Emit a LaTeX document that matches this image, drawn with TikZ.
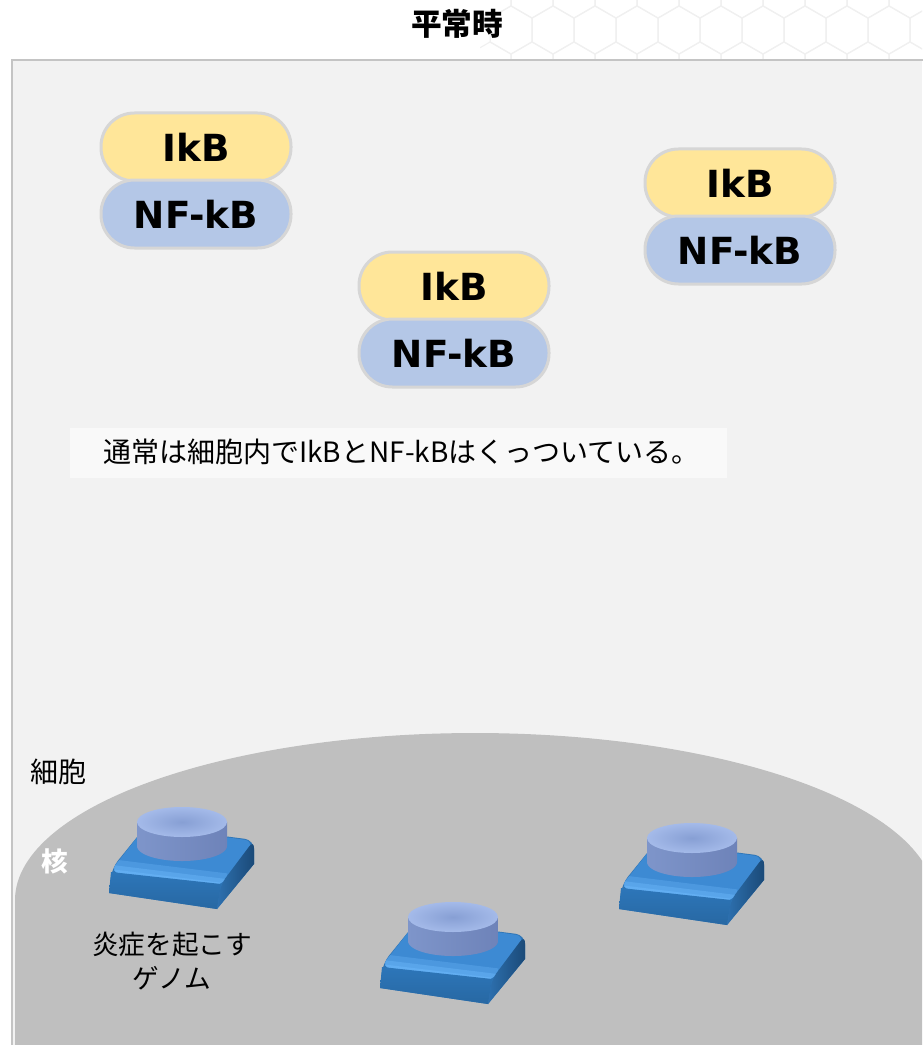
\documentclass[tikz,border=0pt]{standalone}
\usepackage{fontspec}
\newfontfamily\jp{Noto Sans CJK JP}
\newfontfamily\lat{DejaVu Sans}

\definecolor{panelbg}{HTML}{F2F2F2}
\definecolor{panelline}{HTML}{C4C4C4}
\definecolor{nucgray}{HTML}{BFBFBF}
\definecolor{ikbfill}{HTML}{FFE699}
\definecolor{nfkbfill}{HTML}{B4C7E7}
\definecolor{pillline}{HTML}{D6D6D6}
\definecolor{capbox}{HTML}{F9F9F9}
\definecolor{hexline}{HTML}{F0F0F0}
\definecolor{genebody}{HTML}{2E75B6}
\definecolor{genetop}{HTML}{3D8AD3}
\definecolor{genefront}{HTML}{2D76B9}
\definecolor{genehi}{HTML}{62AEF2}
\definecolor{genesidel}{HTML}{2D70AF}
\definecolor{genesider}{HTML}{1B4A78}
\definecolor{capl}{HTML}{7E95CA}
\definecolor{capm}{HTML}{A6BBE8}
\definecolor{capr}{HTML}{6E83B9}
\definecolor{captopin}{HTML}{879FD4}
\definecolor{captopout}{HTML}{A4BAE9}

\begin{document}
\begin{tikzpicture}[x=0.75pt,y=-0.75pt,
  pillbox/.style={draw=pillline, line width=2.25pt, rounded corners=25pt,
    minimum width=142.5pt, minimum height=51pt, inner sep=0pt,
    font=\lat\bfseries\fontsize{28}{31}\selectfont, text=black},
  ikb/.style={pillbox, fill=ikbfill},
  nfkb/.style={pillbox, fill=nfkbfill},
  jptext/.style={font=\jp\fontsize{21}{25}\selectfont, text=black, inner sep=0pt},
  gene/.pic={
    % slab body: sharp bottom, rounded upper edges
    \fill[genebody] (-73,71) -- (35,87) -- (72,42) [rounded corners=7pt] -- (72,18) -- (-36,4) -- (-70,46) [sharp corners] -- cycle;
    % top face, brightening towards its rounded front edge
    \begin{scope}
      \clip[rounded corners=7pt] (-72,50) -- (39,64) -- (72,19) -- (-36,4) -- cycle;
      \fill[genetop] (-80,0) rectangle (80,70);
      \draw[genehi!40!genetop, line width=16pt] (-78,47) -- (44,62);
      \draw[genehi!75!genetop, line width=9pt] (-78,48) -- (44,63);
      \draw[genehi, line width=4pt] (-78,49) -- (44,64);
    \end{scope}
    % front face
    \shade[top color=genefront, bottom color=genefront!88!black]
      (-73,71) -- (35,87) -- (39,62) -- (-71,50) -- cycle;
    % right face
    \shade[left color=genesidel, right color=genesider]
      (35,87) -- (72,42) [rounded corners=6pt] -- (72,18) -- (39,62) [sharp corners] -- cycle;
    % cylindrical cap
    \shade[left color=capl, middle color=capm, right color=capr]
      (-45,0) -- (-45,24) -- plot[domain=180:0, samples=60] ({45*cos(\x)},{24+15*sin(\x)}) -- (45,0) -- cycle;
    \shade[inner color=captopin, outer color=captopout] (0,0) ellipse[x radius=33.75pt, y radius=11.25pt];
  }]
\useasboundingbox (0,0) rectangle (922,1045);
\fill[white] (0,0) rectangle (922,1045);

% faint honeycomb behind the heading
\begin{scope}
  \clip (480,0) rectangle (922,59);
  \foreach \row in {0,1,2} {
    \foreach \col in {0,...,11} {
      \pgfmathsetmacro\hx{490+42*\col+21*mod(\row,2)}
      \pgfmathsetmacro\hy{-6+36*\row}
      \draw[hexline, line width=0.8pt] (\hx,\hy) +(30:24) -- +(90:24) -- +(150:24) -- +(210:24) -- +(270:24) -- +(330:24) -- cycle;
    }
  }
\end{scope}

\node[font=\jp\bfseries\fontsize{23}{26}\selectfont, inner sep=0pt] (title) at (457,24) {平常時};

% cell panel
\fill[panelbg] (12,60) rectangle (922,1045);
\draw[panelline, line width=1.6pt] (12,1046) -- (12,60) -- (923,60);

% nucleus
\begin{scope}
  \clip (13,61) rectangle (922,1045);
  \fill[nucgray] (15,1050) -- plot[domain=180:360, samples=120] ({475+460*cos(\x)},{900+167*sin(\x)}) -- (935,1050) -- cycle;
\end{scope}

% IkB / NF-kB pairs
\node[ikb] (ikb1) at (196,147) {IkB};
\node[nfkb] (nfkb1) at (196,214) {NF-kB};
\node[ikb] (ikb2) at (454,286) {IkB};
\node[nfkb] (nfkb2) at (454,353) {NF-kB};
\node[ikb] (ikb3) at (740,183) {IkB};
\node[nfkb] (nfkb3) at (740,250) {NF-kB};

% caption
\node[fill=capbox, minimum width=492.75pt, minimum height=37.5pt, inner sep=0pt, anchor=west] (capbg) at (70,453) {};
\node[jptext, anchor=west] (captext) at (103,452) {通常は細胞内でIkBとNF-kBはくっついている。};

% labels
\node[jptext] (cell) at (58,772) {細胞};
\node[font=\jp\bfseries\fontsize{20}{24}\selectfont, text=white, inner sep=0pt] (nuc) at (55,861) {核};
\node[jptext, font=\jp\fontsize{20}{26}\selectfont, align=center] (genelabel) at (172,961) {炎症を起こす\\ゲノム};

% inflammatory genes
\pic (g1) at (182,822) {gene};
\pic (g2) at (453,917) {gene};
\pic (g3) at (692,838) {gene};
\end{tikzpicture}
\end{document}
